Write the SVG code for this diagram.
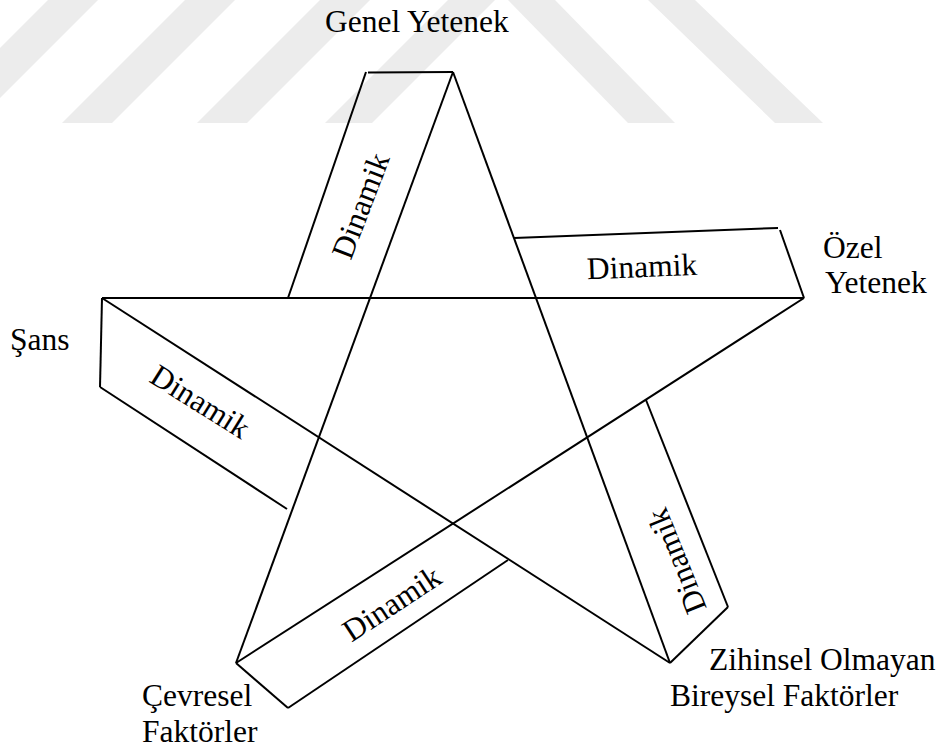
<svg xmlns="http://www.w3.org/2000/svg" width="950" height="749" viewBox="0 0 950 749">
  <defs>
    <style>
      .ln { stroke: #000; stroke-width: 2; fill: none; stroke-linecap: butt; }
      .lbl { font-family: "Liberation Serif", "Times New Roman", serif; font-size: 31.5px; fill: #000; }
      .dyn { font-family: "Liberation Serif", "Times New Roman", serif; font-size: 31.5px; fill: #000; text-anchor: middle; }
      .wm { fill: #ececec; }
    </style>
  </defs>
  <rect x="0" y="0" width="950" height="749" fill="#ffffff"/>

  <g id="watermark">
    <polygon class="wm" points="-75,123 -25,123 98,0 48,0"/>
    <polygon class="wm" points="62,123 112,123 235,0 185,0"/>
    <polygon class="wm" points="197,123 247,123 370,0 320,0"/>
    <polygon class="wm" points="325,123 372,123 495,0 448,0"/>
    <polygon class="wm" points="628,123 675,123 555,0 508,0"/>
    <polygon class="wm" points="775,123 823,123 695,0 648,0"/>
  </g>

  <g id="connectors">
    <line class="ln" x1="453" y1="72" x2="236" y2="663"/>
    <line class="ln" x1="453" y1="72" x2="670" y2="663"/>
    <line class="ln" x1="102" y1="298" x2="804" y2="298"/>
    <line class="ln" x1="102" y1="298" x2="670" y2="663"/>
    <line class="ln" x1="804" y1="298" x2="236" y2="663"/>
  </g>

  <g id="ribbon-genel">
    <polyline class="ln" points="288,298 366,72"/>
    <line class="ln" x1="368" y1="72.5" x2="453" y2="72"/>
    <text class="dyn" transform="translate(361,206) rotate(-69)" dy="0.32em">Dinamik</text>
  </g>

  <g id="ribbon-ozel">
    <line class="ln" x1="514" y1="238" x2="778" y2="228"/>
    <line class="ln" x1="780" y1="230" x2="804" y2="298"/>
    <text class="dyn" transform="translate(642,267) rotate(-2.3)" dy="0.32em">Dinamik</text>
  </g>

  <g id="ribbon-sans">
    <line class="ln" x1="102" y1="298" x2="100" y2="387"/>
    <line class="ln" x1="100" y1="387" x2="287" y2="509"/>
    <text class="dyn" transform="translate(200,402) rotate(32)" dy="0.32em">Dinamik</text>
  </g>

  <g id="ribbon-zihinsel">
    <line class="ln" x1="646" y1="400" x2="728" y2="607"/>
    <line class="ln" x1="728" y1="607" x2="670" y2="663"/>
    <text class="dyn" transform="translate(677,561) rotate(-112)" dy="0.32em">Dinamik</text>
  </g>

  <g id="ribbon-cevresel">
    <line class="ln" x1="236" y1="663" x2="288" y2="708"/>
    <line class="ln" x1="288" y1="708" x2="508" y2="560"/>
    <text class="dyn" transform="translate(392,604) rotate(-33.5)" dy="0.32em">Dinamik</text>
  </g>

  <g id="label-genel">
    <text class="lbl" x="325" y="32">Genel Yetenek</text>
  </g>
  <g id="label-ozel">
    <text class="lbl" x="823" y="258">Özel</text>
    <text class="lbl" x="825" y="293">Yetenek</text>
  </g>
  <g id="label-sans">
    <text class="lbl" x="10" y="350">Şans</text>
  </g>
  <g id="label-zihinsel">
    <text class="lbl" x="709" y="670">Zihinsel Olmayan</text>
    <text class="lbl" x="670" y="706">Bireysel Faktörler</text>
  </g>
  <g id="label-cevresel">
    <text class="lbl" x="142" y="706">Çevresel</text>
    <text class="lbl" x="142" y="742">Faktörler</text>
  </g>
</svg>
